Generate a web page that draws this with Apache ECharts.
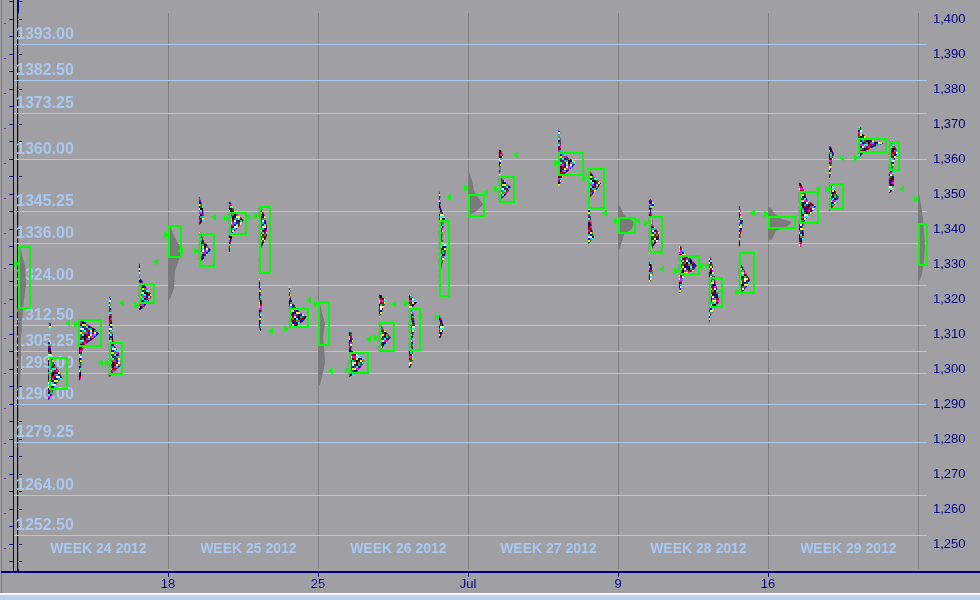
<!DOCTYPE html>
<html><head><meta charset="utf-8">
<script src="https://cdn.jsdelivr.net/npm/echarts@6/dist/echarts.min.js"></script>
<style>html,body{margin:0;padding:0;background:#a09fa4;}#c{width:980px;height:600px;}</style>
</head><body><div id="c"></div>
<script>
// ---------- data ----------
const xTickSlots = [5, 10, 15, 20, 25];
const xTickLabels = ['18', '25', 'Jul', '9', '16'];
const weekStartSlots = [0, 5, 10, 15, 20, 25, 30];
const weekLabelSlots = [0, 5, 10, 15, 20, 25];
const weekLabels = ['WEEK 24 2012', 'WEEK 25 2012', 'WEEK 26 2012', 'WEEK 27 2012', 'WEEK 28 2012', 'WEEK 29 2012'];
const levelPrices = [1393, 1382.5, 1373.25, 1360, 1345.25, 1336, 1324, 1312.5, 1305.25, 1299, 1290, 1279.25, 1264, 1252.5];
const priceLabelValues = [1250, 1260, 1270, 1280, 1290, 1300, 1310, 1320, 1330, 1340, 1350, 1360, 1370, 1380, 1390, 1400];
const priceTickValues = [1245, 1250, 1255, 1260, 1265, 1270, 1275, 1280, 1285, 1290, 1295, 1300, 1305, 1310, 1315, 1320, 1325, 1330, 1335, 1340, 1345, 1350, 1355, 1360, 1365, 1370, 1375, 1380, 1385, 1390, 1395, 1400, 1405];
const leftMarkValues = [1398.8, 1388.8, 1378.8, 1368.8, 1358.8, 1348.8, 1338.8, 1328.8, 1318.8, 1308.8, 1298.8, 1288.8, 1278.8, 1268.8, 1258.8, 1248.8];

// daily TPO profiles: start slot + [price, TPO count] outline
const tpoSlot = [1.03, 1.0, 2.03, 3.03, 4.03, 6.03, 6.03, 7.03, 8.03, 8.03, 8.03, 9.03, 11.03, 12.03, 12.03, 13.03, 14.03, 14.03, 16.03, 16.03, 18.0, 19.0, 19.0, 21.03, 21.03, 22.03, 23.03, 24.03, 24.03, 26.03, 27.03, 27.03, 28.0, 29.03];
const tpoShape = [
  [[1313,1],[1311.5,1]],
  [[1307.5,1],[1305.5,1.5],[1302.5,2.5],[1300.5,4],[1299,6],[1297.5,7],[1295.5,4],[1293.5,2.5],[1291.5,1]],
  [[1314,2],[1313,4],[1311,9],[1310,10],[1308.5,7],[1307,3],[1305,1.5],[1297,1]],
  [[1320.5,1],[1318,1],[1314,1.5],[1309,2],[1307,2.5],[1304.5,5],[1301,6],[1299,2],[1298,1]],
  [[1330,0.5],[1326,0.5],[1325,2],[1323,4],[1321,6.5],[1319.5,5],[1318,3],[1317,1]],
  [[1349,0.5],[1346,2],[1343,2.5],[1341.5,1]],
  [[1339,1],[1337,2],[1334,6],[1332,3],[1330.5,1]],
  [[1347.5,1],[1345,3],[1342.5,7.5],[1340,4],[1339,2],[1336,1],[1333.5,0.5]],
  [[1346,1],[1344,3],[1341,4],[1338,4],[1335,1.5],[1334,0.5]],
  [[1331,1],[1328,1]],
  [[1325.5,0.5],[1322,1],[1318,1.5],[1314,1],[1311,1]],
  [[1323.5,0.5],[1320,1],[1318,3],[1316,6],[1315,9],[1313.5,7],[1312,3]],
  [[1311,1],[1308,2],[1305.5,1],[1304.5,3],[1302.5,8],[1300.5,6],[1299,4],[1298,1]],
  [[1321,1.5],[1319.5,3.5],[1318,2.5],[1316,1.5],[1315,0.5]],
  [[1312.5,1],[1311,3],[1309,6],[1307,3],[1305.5,1]],
  [[1321,1],[1319,4],[1317.5,1.5],[1315,2.5],[1312,3],[1309.5,2],[1306,2],[1303,2],[1300.5,1]],
  [[1350.5,0.5],[1346,1],[1343,3],[1340,2],[1337,1.5],[1335,4],[1332,3],[1330,1.5],[1325,0.5]],
  [[1315,1],[1312,2.5],[1309,1]],
  [[1362.5,1],[1361,2],[1359,1],[1355.5,0.5]],
  [[1354.5,1.5],[1352,6],[1350,4],[1348.5,1]],
  [[1368,1],[1362,1.5],[1360.5,5],[1359,9],[1357.5,7],[1355.5,3],[1354,1.5],[1352.5,1]],
  [[1357,0.5],[1355,3],[1353,6.5],[1351,4],[1349,1]],
  [[1346,1],[1343,1.5],[1340,2],[1337.5,3],[1336,1]],
  [[1348.5,1],[1347,3],[1345.5,1],[1343.5,1.5],[1341,2],[1339,5],[1337,5],[1335,2],[1333,1]],
  [[1330.5,1],[1328,2],[1325,1]],
  [[1335,1],[1333,3],[1331.5,6],[1329.5,9],[1328,7],[1327,3],[1325,1.5],[1322,1]],
  [[1332,1],[1329,2],[1326,3],[1324,3.5],[1321.5,5],[1319,5],[1317.5,3],[1315.5,1],[1313.5,0.5]],
  [[1346.5,0.5],[1344,1],[1342.5,2],[1340,1.5],[1337,0.5],[1335,0.5]],
  [[1330,1],[1328,3],[1325.5,5.5],[1323.5,4],[1321.5,1]],
  [[1353,1],[1350.5,3],[1348.5,4],[1346.5,8.5],[1344.5,6],[1342.5,3],[1340.5,2],[1338,2.5],[1335,1]],
  [[1363.5,1],[1361.5,2.5],[1359,1.5],[1356,1],[1354.5,0.5]],
  [[1353,1.5],[1351,3],[1349,5],[1347,3],[1345.5,1]],
  [[1369,1.5],[1367,2.5],[1365.5,6],[1364.5,13],[1363.5,8],[1362,3],[1360.5,1]],
  [[1365,1],[1363.5,3],[1362,4.5],[1360,3],[1357,2],[1355,2.5],[1352,2.5],[1350.5,1]]
];

// weekly composite profiles (grey)
const graySlot = [0, 5, 10, 15, 20, 25, 30];
const grayShape = [
  [[1335,1],[1332.5,2],[1329.5,3.5],[1324,4],[1320,3],[1314,2],[1307,1.5],[1300,1.5],[1294,0.5]],
  [[1341,1],[1338,3],[1335,6],[1332,6],[1328,3.5],[1323,3],[1320,1]],
  [[1319,1],[1316,2],[1313,3.5],[1309,2.5],[1306,3],[1302,3.5],[1299,2.5],[1295.5,1]],
  [[1356.5,0.5],[1354,2],[1351,3],[1349,5],[1347,7.5],[1345,4],[1344,1]],
  [[1346.5,1],[1344,3],[1342,8],[1340,7],[1338.5,3],[1336.5,2],[1334.5,1]],
  [[1346,1.5],[1344.5,3],[1343,6],[1342,12],[1340.5,9],[1339.5,4],[1337,2]],
  [[1350,0.5],[1347,1.5],[1343,2.5],[1339,3],[1335,3.5],[1331,3],[1327,2],[1325,0.5]]
];

// value-area boxes: [slot, width in TPOs, high, low]
const valueAreas = [
  [0,5.5,1335,1317.5],[1.03,8.5,1303.1,1294.3],[2.0,11,1314,1306.6],[3.03,6,1307.4,1298.6],[4.03,7,1324.3,1318.9],
  [5,6,1341,1332],[6.03,7,1338.6,1329.4],[7.03,8,1344.6,1338.6],[8.03,5,1346.3,1327.4],[9.03,9,1317.1,1312],
  [10,5,1319.1,1306.9],[11.03,9,1304.6,1298.9],[12.03,7,1313.1,1305.1],[13.03,5,1317.1,1305.4],[14.03,4.5,1342.3,1320.9],
  [15,7.5,1349.7,1343.7],[16.03,7,1354.9,1347.7],[18.0,12,1361.7,1355.4],[19.0,7.5,1357.1,1346],
  [20,8,1343.1,1338.9],[21.03,6,1343.4,1333.4],[22.03,9.5,1332.3,1327.1],[23.03,6,1326,1317.7],[24.03,7,1333.1,1321.7],
  [25,13,1343.4,1340.3],[26.03,9,1350.6,1341.7],[27.03,6.5,1352.9,1345.7],[28.0,13.5,1365.7,1362],[29.03,4.5,1364.9,1356.9],
  [30,4,1341.4,1329.7]
];

// open / close markers: [slot, price, direction 1=right -1=left]
const markers = [
  [-0.07,1330,1],[1.67,1313.1,-1],[1.93,1312.9,1],[2.77,1301.7,-1],[2.97,1301.7,1],[3.47,1318.9,-1],[3.93,1318.3,1],
  [4.6,1330.6,-1],[4.93,1338.3,1],[5.43,1333.7,-1],[5.93,1333.7,1],[6.53,1343.4,-1],[6.93,1343.1,1],[7.67,1343.4,-1],[7.93,1343.7,1],
  [8.43,1310.9,-1],[8.93,1311.4,1],[9.7,1319.7,-1],[9.93,1318.6,1],[10.43,1299.4,-1],[10.97,1299.7,1],[11.7,1308.6,-1],[11.93,1308.9,1],
  [12.53,1318.6,-1],[12.93,1318.9,1],[13.4,1315.1,-1],[13.97,1314.9,1],[14.37,1349.1,-1],[14.93,1351.7,1],[15.6,1350.6,-1],[15.93,1351.4,1],
  [16.6,1361.1,-1],[17.93,1358.9,1],[18.87,1354.6,1],[19.57,1344.6,-1],[19.93,1342.3,1],[20.67,1342.3,-1],[20.93,1341.7,1],
  [21.47,1328.6,-1],[21.93,1328,1],[22.77,1329.4,-1],[22.97,1329.4,1],[23.47,1322.3,-1],[23.97,1322,1],[24.5,1344.6,-1],[24.93,1344.3,1],
  [26.67,1351.4,-1],[26.97,1351.4,1],[27.47,1360.3,-1],[27.93,1360.3,1],[29.47,1351.4,-1],[29.93,1348.6,1]
];

// ---------- styling helpers ----------
const NAVY = '#000080', LBLUE = '#a8c8f0', LIME = '#00ff00', BG = '#a09fa4';
const FONT = "'Liberation Sans', Arial, sans-serif";
const SLOT_TPO = 15; // TPO columns per slot width

function makeTpoPattern() {
  const n = 14, cw = 2, ch = 2;
  const c = document.createElement('canvas');
  c.width = n * cw; c.height = n * ch;
  const ctx = c.getContext('2d');
  const pal = ['#00008c', '#ffff00', '#ff00ff', '#00ffff', '#ffffff', '#000000', '#008000', '#800000', '#808000', '#0000ff', '#c80000', '#800080', '#00c0c0'];
  for (let i = 0; i < n; i++) for (let j = 0; j < n; j++) {
    ctx.fillStyle = pal[(i * 7 + j * 5 + ((i * j) % 4) * 3) % pal.length];
    ctx.fillRect(i * cw, j * ch, cw, ch);
  }
  return c;
}
const tpoPattern = { image: makeTpoPattern(), repeat: 'repeat' };

function profileRenderer(slots, shapes, fill) {
  return function (params, api) {
    const idx = api.value(2);
    const shape = shapes[idx];
    const unit = api.size([1, 0])[0] / SLOT_TPO;
    const x0 = api.coord([slots[idx], shape[0][0]])[0];
    const pts = [];
    const yTop = api.coord([slots[idx], shape[0][0]])[1];
    pts.push([x0, yTop - 1]);
    shape.forEach(function (s) {
      const y = api.coord([slots[idx], s[0]])[1];
      pts.push([x0 + Math.max(s[1] * unit, 1), y]);
    });
    const yBot = api.coord([slots[idx], shape[shape.length - 1][0]])[1];
    pts.push([x0, yBot + 1]);
    return { type: 'polygon', shape: { points: pts }, style: { fill: fill } };
  };
}

const chart = echarts.init(document.getElementById('c'), null, { renderer: 'canvas' });
const option = {
  backgroundColor: BG,
  animation: false,
  grid: { left: 13, right: 52, top: 0, bottom: 28, containLabel: false },
  xAxis: {
    type: 'value', min: -5 / 30, max: -5 / 30 + 915 / 30,
    axisLine: { show: true, onZero: false, lineStyle: { color: NAVY, width: 2 } },
    axisTick: { show: true, customValues: xTickSlots, length: 5, lineStyle: { color: NAVY, width: 1 } },
    axisLabel: { show: true, customValues: xTickSlots, margin: 6, color: NAVY, fontSize: 13, fontFamily: FONT,
      formatter: function (v) { const i = xTickSlots.indexOf(v); return i >= 0 ? xTickLabels[i] : ''; } },
    splitLine: { show: false }
  },
  yAxis: [
    {
      type: 'value', position: 'right', min: 1242, max: 1405.4286,
      axisLine: { show: true, lineStyle: { color: NAVY, width: 2 } },
      axisTick: { show: true, customValues: priceTickValues, length: 4, lineStyle: { color: NAVY } },
      axisLabel: { show: true, customValues: priceLabelValues, margin: 5, color: NAVY, fontSize: 13, fontFamily: FONT,
        formatter: function (v) { return v.toLocaleString('en-US'); } },
      splitLine: { show: false }
    },
    {
      type: 'value', position: 'left', min: 1242, max: 1405.4286,
      axisLine: { show: true, lineStyle: { color: NAVY, width: 1 } },
      axisTick: { show: true, customValues: priceTickValues, length: 4, lineStyle: { color: NAVY } },
      axisLabel: { show: false }, splitLine: { show: false }
    },
    {
      type: 'value', position: 'left', offset: 7, min: 1242, max: 1405.4286,
      axisLine: { show: false },
      axisTick: { show: true, customValues: leftMarkValues, length: 2, lineStyle: { color: '#7a3c9a', width: 1 } },
      axisLabel: { show: false }, splitLine: { show: false }
    }
  ],
  graphic: [
    { type: 'line', shape: { x1: 1.5, y1: 0, x2: 1.5, y2: 593 }, style: { stroke: '#7f7f7f', lineWidth: 1 }, z: 10 },
    { type: 'line', shape: { x1: 1, y1: 572, x2: 980, y2: 572 }, style: { stroke: NAVY, lineWidth: 2 }, z: 10 },
    { type: 'rect', shape: { x: 0, y: 593, width: 980, height: 2 }, style: { fill: '#f4f6fa' }, z: 10 },
    { type: 'rect', shape: { x: 0, y: 595, width: 980, height: 5 }, style: { fill: '#b9d1ea' }, z: 10 }
  ],
  series: [
    { // week separators
      type: 'custom', coordinateSystem: 'cartesian2d', xAxisIndex: 0, yAxisIndex: 0, z: 1, silent: true,
      data: weekStartSlots.map(function (s) { return [s, 1300]; }),
      renderItem: function (params, api) {
        const cs = params.coordSys;
        const x = Math.round(api.coord([api.value(0), 1300])[0]) + 0.5;
        return { type: 'line', shape: { x1: x, y1: cs.y + 13, x2: x, y2: cs.y + cs.height - 3 }, style: { stroke: '#808080', lineWidth: 1 } };
      }
    },
    { // price levels
      type: 'custom', coordinateSystem: 'cartesian2d', xAxisIndex: 0, yAxisIndex: 0, z: 2, silent: true,
      data: levelPrices.map(function (p) { return [0, p]; }),
      renderItem: function (params, api) {
        const cs = params.coordSys;
        const y = Math.round(api.coord([0, api.value(1)])[1]) + 0.5;
        return { type: 'group', children: [
          { type: 'line', shape: { x1: cs.x + 1, y1: y, x2: cs.x + cs.width - 1, y2: y }, style: { stroke: LBLUE, lineWidth: 1 } },
          { type: 'text', style: { text: api.value(1).toFixed(2), x: cs.x + 3, y: y - 10, verticalAlign: 'middle', align: 'left',
            fill: LBLUE, font: 'bold 16px ' + FONT } }
        ] };
      }
    },
    { // week labels
      type: 'custom', coordinateSystem: 'cartesian2d', xAxisIndex: 0, yAxisIndex: 0, z: 2, silent: true,
      data: weekLabelSlots.map(function (s, i) { return [s + 2.68, 1250, i]; }),
      renderItem: function (params, api) {
        const cs = params.coordSys;
        const x = api.coord([api.value(0), 1250])[0];
        return { type: 'text', style: { text: weekLabels[api.value(2)], x: x, y: cs.y + cs.height - 23, align: 'center', verticalAlign: 'middle',
          fill: LBLUE, font: 'bold 14px ' + FONT } };
      }
    },
    { // weekly grey profiles
      type: 'custom', coordinateSystem: 'cartesian2d', xAxisIndex: 0, yAxisIndex: 0, z: 3, silent: true, clip: true,
      data: graySlot.map(function (s, i) { return [s, grayShape[i][0][0], i]; }),
      renderItem: profileRenderer(graySlot, grayShape, '#7b7b7b')
    },
    { // daily TPO profiles
      type: 'custom', coordinateSystem: 'cartesian2d', xAxisIndex: 0, yAxisIndex: 0, z: 4, silent: true, clip: true,
      data: tpoSlot.map(function (s, i) { return [s, tpoShape[i][0][0], i]; }),
      renderItem: profileRenderer(tpoSlot, tpoShape, tpoPattern)
    },
    { // value area boxes
      type: 'custom', coordinateSystem: 'cartesian2d', xAxisIndex: 0, yAxisIndex: 0, z: 5, silent: true, clip: true,
      data: valueAreas,
      renderItem: function (params, api) {
        const unit = api.size([1, 0])[0] / SLOT_TPO;
        const p1 = api.coord([api.value(0), api.value(2)]);
        const p2 = api.coord([api.value(0), api.value(3)]);
        return { type: 'rect', shape: { x: Math.round(p1[0]) + 1, y: Math.round(p1[1]), width: Math.round(api.value(1) * unit), height: Math.round(p2[1] - p1[1]) },
          style: { fill: null, stroke: LIME, lineWidth: 2 } };
      }
    },
    { // markers
      type: 'custom', coordinateSystem: 'cartesian2d', xAxisIndex: 0, yAxisIndex: 0, z: 6, silent: true, clip: true,
      data: markers,
      renderItem: function (params, api) {
        const p = api.coord([api.value(0), api.value(1)]);
        const d = api.value(2);
        const x = Math.round(p[0]), y = Math.round(p[1]);
        return { type: 'polygon', shape: { points: [[x - 2 * d, y - 3.5], [x + 3 * d, y], [x - 2 * d, y + 3.5]] }, style: { fill: LIME } };
      }
    }
  ]
};
chart.setOption(option);
</script>
</body></html>
